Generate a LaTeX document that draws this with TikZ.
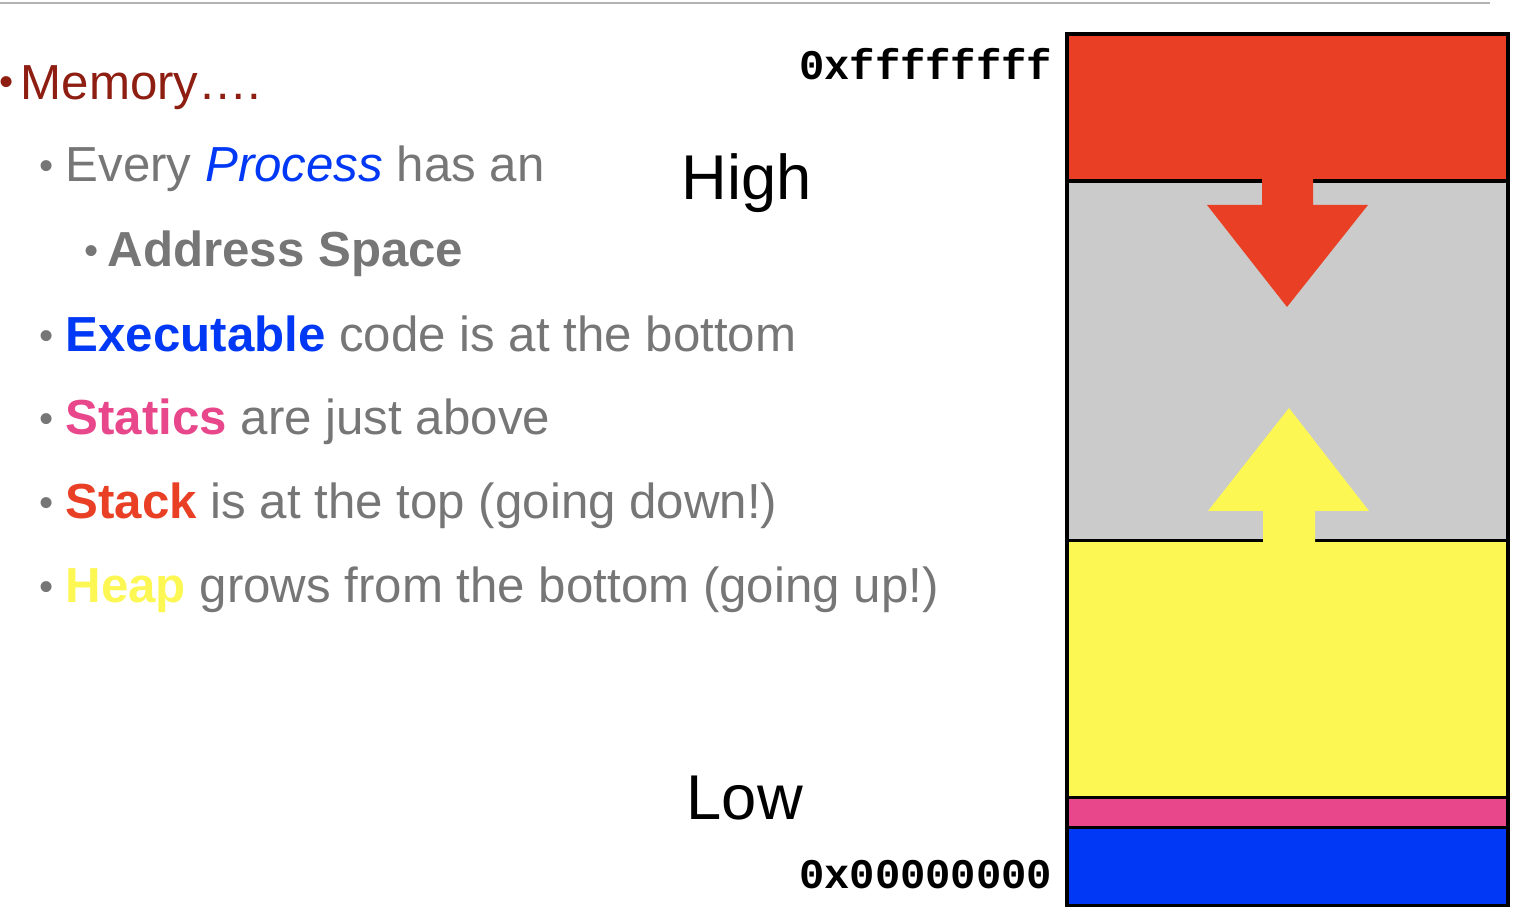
\documentclass[tikz,border=0pt]{standalone}
\usepackage{fontspec}
\setmainfont{Liberation Sans}
\setmonofont{Liberation Mono}
\usetikzlibrary{positioning}

\definecolor{stackred}{RGB}{233,64,37}
\definecolor{heapyellow}{RGB}{253,247,84}
\definecolor{staticpink}{RGB}{232,72,139}
\definecolor{codeblue}{RGB}{0,56,245}
\definecolor{freegray}{RGB}{203,203,203}
\definecolor{textgray}{RGB}{118,118,118}
\definecolor{titlered}{RGB}{142,30,18}

\begin{document}
\begin{tikzpicture}[
        x=0.01cm, y=-0.01cm,
        line/.style={inner sep=0, anchor=base west, font=\fontsize{14}{16}\selectfont, text=textgray},
        dot/.style={inner sep=0, anchor=base west, font=\fontsize{11.5}{12}\selectfont, text=textgray},
        addr/.style={inner sep=0, anchor=base east, font=\fontsize{12}{14}\selectfont\ttfamily\bfseries},
        level/.style={inner sep=0, anchor=base west, font=\fontsize{18}{20}\selectfont},
        seg/.style={rectangle, draw=black, line width=1pt, minimum width=4.41cm, inner sep=0, outer sep=0}
    ]
    \useasboundingbox (0,0) rectangle (1530,922);
    \draw[gray!60, line width=0.6pt] (0,3) -- (1490,3);

    % Bullet list
    \node[dot, text=titlered] (d0) at (-1,100) {\raisebox{1.2pt}{\textbullet}};
    \node[line, text=titlered] (memory) at (20,100) {Memory….};
    \node[dot] (d1) at (39,182) {\raisebox{0.6pt}{\textbullet}};
    \node[line] (every) at (65,182) {Every \textcolor{codeblue}{\itshape Process} has an};
    \node[dot] (d2) at (84,267) {\raisebox{0.6pt}{\textbullet}};
    \node[line, font=\fontsize{14}{16}\selectfont\bfseries] (space) at (107,267) {Address Space};
    \node[dot] (d3) at (39,352) {\raisebox{0.6pt}{\textbullet}};
    \node[line] (exec) at (65,352) {\textcolor{codeblue}{\bfseries Executable} code is at the bottom};
    \node[dot] (d4) at (39,435) {\raisebox{0.6pt}{\textbullet}};
    \node[line] (statics) at (65,435) {\textcolor{staticpink}{\bfseries Statics} are just above};
    \node[dot] (d5) at (39,519) {\raisebox{0.6pt}{\textbullet}};
    \node[line] (stacktxt) at (65,519) {\textcolor{stackred}{\bfseries Stack} is at the top (going down!)};
    \node[dot] (d6) at (39,603) {\raisebox{0.6pt}{\textbullet}};
    \node[line] (heaptxt) at (65,603) {\textcolor{heapyellow}{\bfseries Heap} grows from the bottom (going up!)};

    % Memory segments
    \node[seg, fill=stackred, minimum height=1.47cm, anchor=north west] (stack) at (1067,34) {};
    \node[seg, fill=freegray, minimum height=3.59cm, below=0pt of stack] (free) {};
    \node[seg, fill=heapyellow, minimum height=2.57cm, below=0pt of free] (heap) {};
    \node[seg, fill=staticpink, minimum height=0.30cm, below=0pt of heap] (static) {};
    \node[seg, fill=codeblue, minimum height=0.78cm, below=0pt of static] (code) {};

    % Growth arrows
    \fill[stackred] (1262,178) -- (1313,178) -- (1313,205) -- (1368,205) -- (1287,307)
        -- (1207,205) -- (1262,205) -- cycle;
    \fill[heapyellow] (1263,543) -- (1315,543) -- (1315,511) -- (1369,511) -- (1289,408)
        -- (1208,511) -- (1263,511) -- cycle;
    \draw[line width=1.1pt] (stack.north west) rectangle (code.south east);

    % Labels
    \node[addr] (hiaddr) at (1053,80) {0xffffffff};
    \node[addr] (loaddr) at (1053,888) {0x00000000};
    \node[level] (high) at (681,200) {High};
    \node[level] (low) at (686,820) {Low};
\end{tikzpicture}
\end{document}
